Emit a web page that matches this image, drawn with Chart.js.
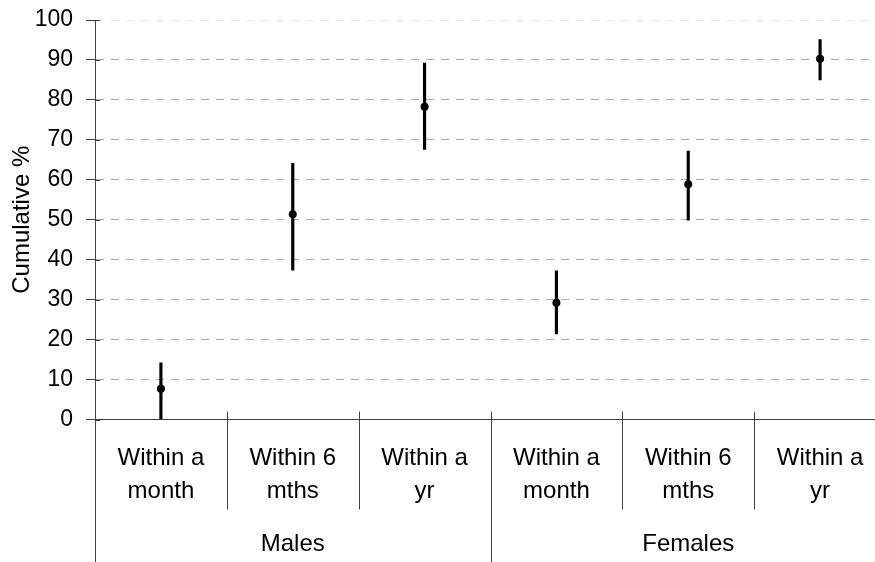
<!DOCTYPE html>
<html>
<head>
<meta charset="utf-8">
<script src="https://cdn.jsdelivr.net/npm/chart.js@4.4.1/dist/chart.umd.min.js"></script>
<style>
  html, body { margin: 0; padding: 0; background: #fff; overflow: hidden; }
  #wrap { width: 875px; height: 562px; overflow: hidden; }
</style>
</head>
<body>
<div id="wrap"><canvas id="chart" width="890" height="562"></canvas></div>
<script>
// categories
const subLabels = [
  ['Within a', 'month'], ['Within 6', 'mths'], ['Within a', 'yr'],
  ['Within a', 'month'], ['Within 6', 'mths'], ['Within a', 'yr']
];
const groupLabels = ['Males', 'Females'];

// cumulative % with lower / upper limits
const pointValues = [7.7, 51.4, 78.3, 29.2, 58.9, 90.3];
const lowerValues = [0, 37.4, 67.6, 21.4, 49.9, 85.0];
const upperValues = [14.2, 64.1, 89.2, 37.2, 67.2, 95.1];

const yTicks = [0, 10, 20, 30, 40, 50, 60, 70, 80, 90, 100];

const FONT = 'Liberation Sans, Arial, sans-serif';
const AXIS = '#404040';

// separators between categories, below the x axis
const separators = {
  id: 'separators',
  afterDraw(chart) {
    const ctx = chart.ctx;
    const x = chart.scales.x;
    const x2 = chart.scales.x2;
    const y = chart.scales.y;
    const groupEdges = [];
    for (let j = 0; j <= groupLabels.length; j++) {
      groupEdges.push(Math.round(x2.getPixelForValue(j - 0.5)));
    }
    ctx.save();
    ctx.strokeStyle = AXIS;
    ctx.lineWidth = 1;
    for (let i = 0; i <= subLabels.length; i++) {
      const px = Math.round(x.getPixelForValue(i - 0.5)) + 0.5;
      const isGroup = groupEdges.includes(px - 0.5);
      ctx.beginPath();
      ctx.moveTo(px, x.top - 8);
      ctx.lineTo(px, isGroup ? chart.height : x.bottom);
      ctx.stroke();
    }
    // small inner part of the y ticks
    yTicks.forEach(v => {
      const py = Math.round(y.getPixelForValue(v)) + 0.5;
      ctx.beginPath();
      ctx.moveTo(y.right, py);
      ctx.lineTo(y.right + 5, py);
      ctx.stroke();
    });
    ctx.restore();
  }
};

new Chart(document.getElementById('chart'), {
  type: 'bar',
  data: {
    labels: subLabels,
    datasets: [
      {
        type: 'line',
        label: 'Cumulative %',
        data: pointValues,
        showLine: false,
        pointRadius: 4,
        pointBackgroundColor: '#000',
        pointBorderColor: '#000',
        pointBorderWidth: 0,
        order: 0
      },
      {
        type: 'bar',
        label: 'Range',
        data: lowerValues.map((lo, i) => [lo, upperValues[i]]),
        backgroundColor: '#000',
        borderWidth: 0,
        barThickness: 2.5,
        order: 1
      }
    ]
  },
  plugins: [separators],
  options: {
    responsive: false,
    animation: false,
    layout: { padding: { left: 0, right: 3, top: 20, bottom: 0 } },
    plugins: {
      legend: { display: false },
      tooltip: { enabled: false }
    },
    scales: {
      x: {
        type: 'category',
        offset: true,
        grid: { display: false, drawTicks: false },
        border: { display: true, color: AXIS, width: 1 },
        ticks: {
          autoSkip: false,
          maxRotation: 0,
          padding: 22,
          color: '#000',
          font: { family: FONT, size: 24, lineHeight: 1.375 }
        },
        afterFit(scale) { scale.height = 90; }
      },
      x2: {
        type: 'category',
        position: 'bottom',
        labels: groupLabels,
        offset: true,
        grid: { display: false, drawTicks: false },
        border: { display: false },
        ticks: {
          autoSkip: false,
          maxRotation: 0,
          padding: 20,
          color: '#000',
          font: { family: FONT, size: 24 }
        },
        afterFit(scale) { scale.height = 52.5; }
      },
      y: {
        min: 0,
        max: 100,
        afterBuildTicks(scale) { scale.ticks = yTicks.map(v => ({ value: v })); },
        grid: {
          color: ctx => ctx.tick && ctx.tick.value === 0 ? 'rgba(0,0,0,0)'
            : (ctx.tick && ctx.tick.value === 100 ? '#e4e4e4' : '#aaaaaa'),
          lineWidth: 1,
          tickLength: 9,
          tickColor: AXIS
        },
        border: { display: true, color: AXIS, width: 1, dash: [8, 7] },
        ticks: {
          padding: 13,
          color: '#000',
          font: { family: FONT, size: 23 }
        },
        title: {
          display: true,
          text: 'Cumulative %',
          color: '#000',
          font: { family: FONT, size: 24 },
          padding: { top: 8, bottom: 0 }
        },
        afterFit(scale) {
          scale.width = 95;
          scale.paddingTop = 0;
          scale.paddingBottom = 0;
        }
      }
    }
  }
});
</script>
</body>
</html>
